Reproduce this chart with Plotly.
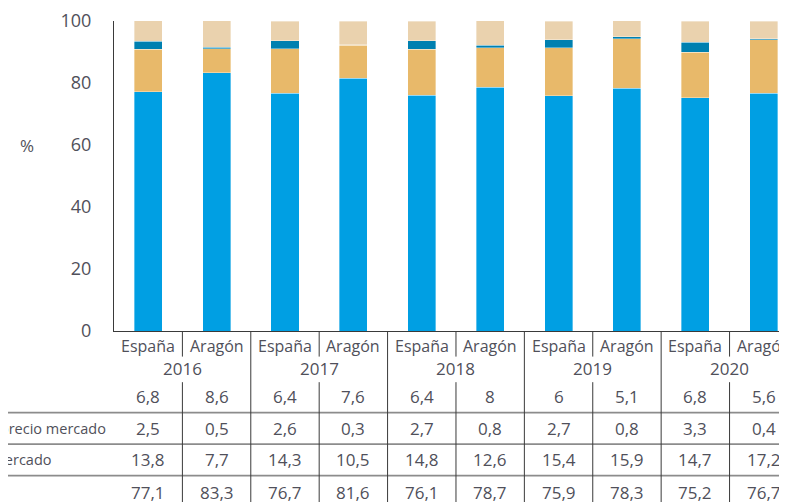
import plotly.graph_objects as go

# Régimen de tenencia de la vivienda (%), España vs Aragón
years = ["2016", "2017", "2018", "2019", "2020"]
zonas = ["España", "Aragón"]
propiedad = [77.1, 83.3, 76.7, 81.6, 76.1, 78.7, 75.9, 78.3, 75.2, 76.7]
alquiler_mercado = [13.8, 7.7, 14.3, 10.5, 14.8, 12.6, 15.4, 15.9, 14.7, 17.2]
alquiler_inferior = [2.5, 0.5, 2.6, 0.3, 2.7, 0.8, 2.7, 0.8, 3.3, 0.4]
cesion = [6.8, 8.6, 6.4, 7.6, 6.4, 8, 6, 5.1, 6.8, 5.6]
y_ticks = [0, 20, 40, 60, 80, 100]

series = [
    ("Propiedad", propiedad, "#009fe3"),
    ("Alquiler a precio de mercado", alquiler_mercado, "#e8b96a"),
    ("Alquiler inferior al precio mercado", alquiler_inferior, "#0080b0"),
    ("Cesión gratuita", cesion, "#ead2ae"),
]

n = len(years) * len(zonas)
xs = list(range(n))
FONT = "Open Sans"
GREY = "#50505a"

# the page has an 8px body margin, so the figure is drawn 8px smaller
W, H = 779, 494
L, T, B = 106, 8, 171
plot_w = W - L
plot_h = H - T - B
x_range = [-0.5, 9.34]


# helpers work in screenshot pixels
def px_x(v):
    return (v - x_range[0]) / (x_range[1] - x_range[0])


def pxp(p):
    return (p - 114) / plot_w


def py(p):
    return (331 - p) / plot_h


def fmt(v):
    return str(v).replace(".", ",")


def txt(x, y, text, size=16, xref="x", xanchor="center"):
    return dict(x=x, y=y, xref=xref, yref="paper", text=text, showarrow=False,
                xanchor=xanchor, yanchor="middle", font=dict(size=size, color=GREY))


fig = go.Figure()
for name, vals, col in series:
    fig.add_trace(go.Bar(x=xs, y=vals, name=name, marker_color=col, width=0.41,
                         marker_line=dict(width=0.6, color="rgba(255,255,255,0.6)")))

annotations = []
shapes = []

# category / year rows
for i in xs:
    annotations.append(txt(i, py(346), zonas[i % 2], size=16))
for j, yr in enumerate(years):
    annotations.append(txt(2 * j + 0.5, py(369), yr, size=17))

# data table, top row = top segment
row_y = [398, 430, 462, 495]
for (name, vals, col), ry in zip(series[::-1], row_y):
    for i in xs:
        annotations.append(txt(i, py(ry), fmt(vals[i]), size=17))

# row labels (partly cut at the left edge)
annotations.append(txt(pxp(108), py(430), series[2][0], size=14.5, xref="paper", xanchor="right"))
annotations.append(txt(pxp(53), py(462), series[1][0], size=14.5, xref="paper", xanchor="right"))

annotations.append(txt(pxp(27), py(143), "%", size=17, xref="paper"))

# table grid
for hy in [414, 446, 478]:
    shapes.append(dict(type="line", xref="paper", yref="paper", x0=pxp(-10), x1=1.05,
                       y0=py(hy), y1=py(hy), line=dict(color="#8c8c8c", width=1.7)))
for k in range(n - 1):
    xp = px_x(k + 0.5)
    if k % 2 == 1:
        segs = [(332, 510)]
    else:
        segs = [(332, 357), (383, 510)]
    for a, b in segs:
        shapes.append(dict(type="line", xref="paper", yref="paper", x0=xp, x1=xp,
                           y0=py(a), y1=py(b), line=dict(color="#3a3a3a", width=1)))

fig.update_layout(
    barmode="stack",
    width=W, height=H,
    margin=dict(l=L, r=0, t=T, b=B),
    plot_bgcolor="white", paper_bgcolor="white",
    showlegend=False,
    font=dict(family=FONT, color=GREY),
    annotations=annotations,
    shapes=shapes,
)
fig.update_xaxes(range=x_range, showticklabels=False, showgrid=False, zeroline=False,
                 showline=True, linecolor="#3a3a3a", linewidth=1, ticks="")
fig.update_yaxes(range=[0, 100], tickvals=y_ticks, showgrid=False, zeroline=False,
                 showline=True, linecolor="#3a3a3a", linewidth=1, ticks="",
                 ticklabelstandoff=18, ticklabeloverflow="allow",
                 tickfont=dict(size=18, color=GREY))

fig.write_html("out.html")
